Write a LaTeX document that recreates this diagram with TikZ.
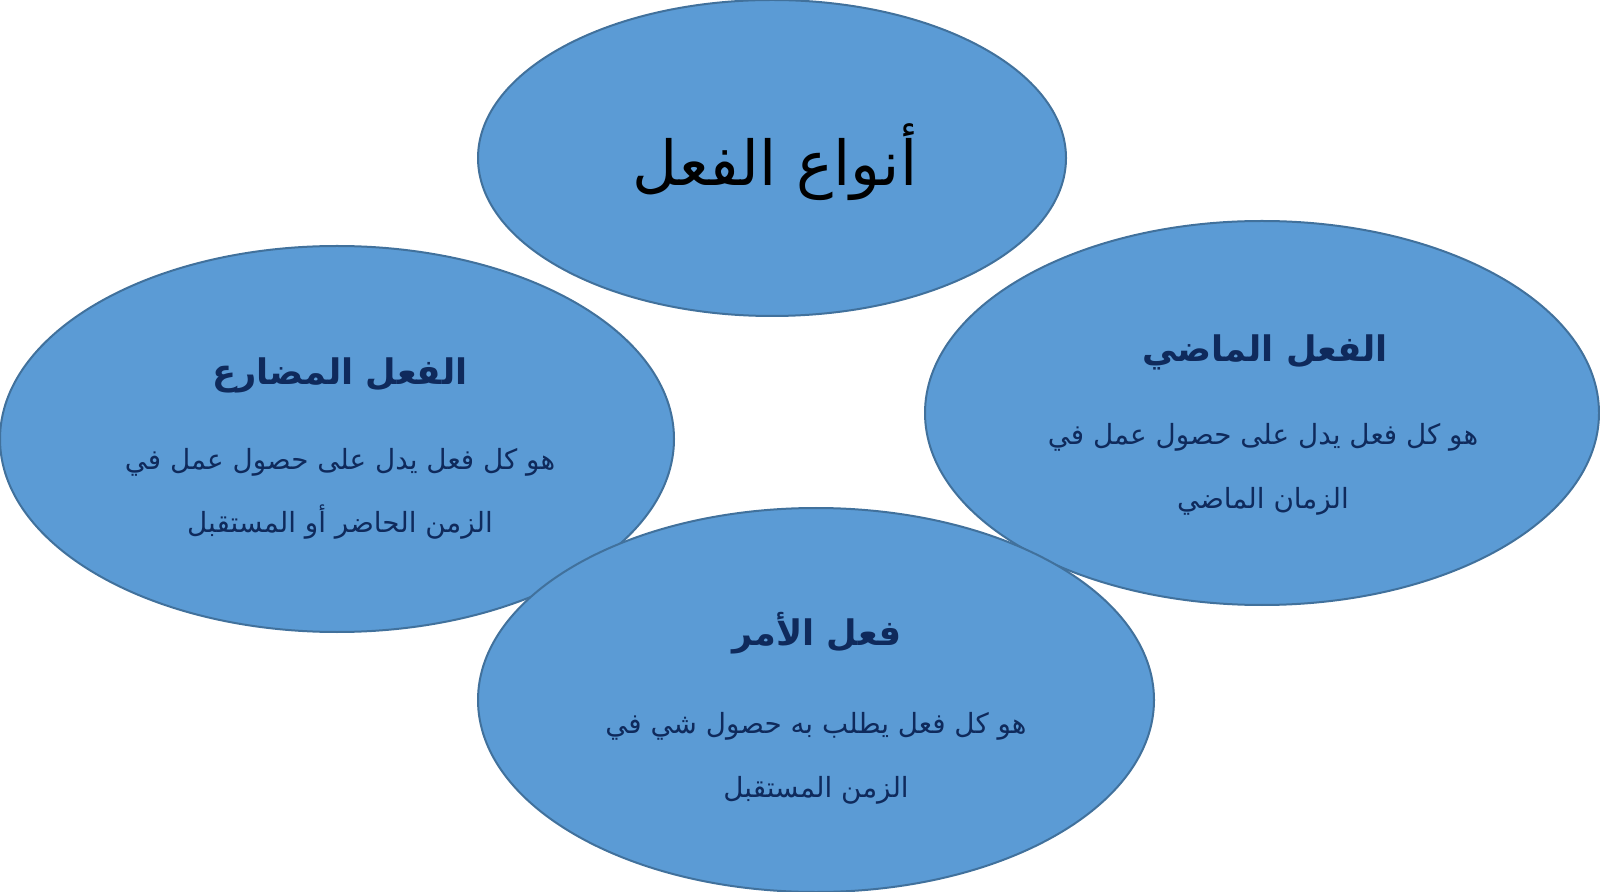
\documentclass[tikz,border=0pt]{standalone}
\usepackage{fontspec}
\usetikzlibrary{shapes.geometric}
\TeXXeTstate=1
\newfontfamily\arabicfont[Script=Arabic]{DejaVu Sans}
\definecolor{ovalfill}{HTML}{5B9BD5}
\definecolor{ovaldraw}{HTML}{41719C}
\definecolor{navytext}{HTML}{0F2A5C}
\tikzset{
  oval/.style={ellipse, draw=ovaldraw, fill=ovalfill, line width=1pt, inner sep=0pt, outer sep=0pt},
  titletext/.style={anchor=base, inner sep=0pt, font=\arabicfont\fontsize{31}{36}\selectfont, text=black},
  headtext/.style={anchor=base, inner sep=0pt, font=\arabicfont\bfseries\fontsize{17.6}{22}\selectfont, text=navytext},
  bodytext/.style={anchor=base, inner sep=0pt, font=\arabicfont\fontsize{13.9}{18}\selectfont, text=navytext},
}
\begin{document}
\begin{tikzpicture}[x=0.5pt,y=-0.5pt]
\useasboundingbox (0,0) rectangle (1600,892);
\node[oval, minimum width=294pt, minimum height=158pt] (top) at (772,158) {};
\node[oval, minimum width=337pt, minimum height=193pt] (left) at (337,439) {};
\node[oval, minimum width=337pt, minimum height=192pt] (right) at (1262,413) {};
\node[oval, minimum width=338pt, minimum height=192pt] (bottom) at (816,700) {};
\node[titletext] (title) at (775,186) {\beginR أنواع الفعل\endR};
\node[headtext] (lhead) at (340,385) {\beginR الفعل المضارع\endR};
\node[bodytext] (lb1) at (340,470) {\beginR هو كل فعل يدل على حصول عمل في\endR};
\node[bodytext] (lb2) at (340,532) {\beginR الزمن الحاضر أو المستقبل\endR};
\node[headtext] (rhead) at (1265,362) {\beginR الفعل الماضي\endR};
\node[bodytext] (rb1) at (1263,445) {\beginR هو كل فعل يدل على حصول عمل في\endR};
\node[bodytext] (rb2) at (1263,509) {\beginR الزمان الماضي\endR};
\node[headtext] (bhead) at (817,645) {\beginR فعل الأمر\endR};
\node[bodytext] (bb1) at (816,733) {\beginR هو كل فعل يطلب به حصول شي في\endR};
\node[bodytext] (bb2) at (816,797) {\beginR الزمن المستقبل\endR};
\end{tikzpicture}
\end{document}
